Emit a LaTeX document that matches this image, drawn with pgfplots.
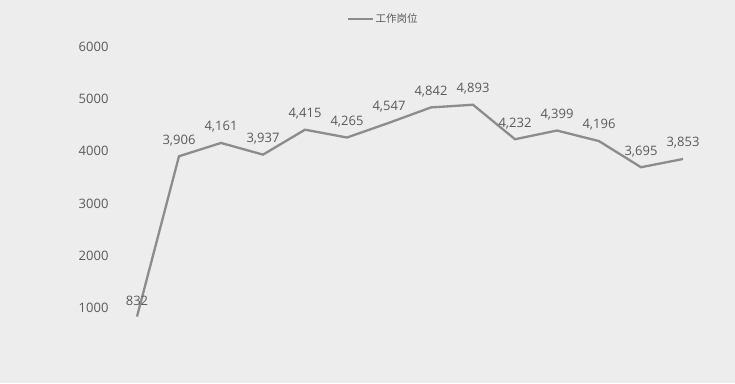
\documentclass[border=0pt]{standalone}
\usepackage{pgfplots}
\pgfplotsset{compat=1.18}
\usepackage{fontspec}
\setmainfont{Open Sans}
\newfontfamily\cjk{Noto Sans CJK SC}
\definecolor{bgc}{RGB}{237,237,237}
\definecolor{linec}{RGB}{140,140,140}
\definecolor{txtc}{RGB}{90,90,90}
\begin{document}
\begin{tikzpicture}[x=1pt,y=1pt]
\fill[bgc] (0,0) rectangle (735,383);
\begin{axis}[
  at={(116pt,23pt)}, anchor=south west,
  scale only axis, width=588pt, height=313pt,
  xmin=-0.5, xmax=13.5, ymin=0, ymax=6000,
  ytick={1000,2000,3000,4000,5000,6000},
  xtick=\empty,
  axis line style={draw=none},
  major tick length=0pt,
  yticklabel style={font=\fontsize{13}{15}\selectfont, text=txtc, xshift=-4pt},
  /pgf/number format/assume math mode=true,
  scaled y ticks=false,
  y tick label style={/pgf/number format/1000 sep={}},
  clip=false,
  legend style={at={(0.455,1)}, anchor=south, yshift=19pt, draw=none, fill=none,
    font=\cjk\fontsize{10.5}{12}\selectfont, text=txtc},
  legend image code/.code={\draw[#1, line width=2pt] (-0.1cm,0) -- (0.75cm,0);},
  nodes near coords,
  every node near coord/.style={font=\fontsize{13}{15}\selectfont, text=txtc, yshift=6pt},
  /pgf/number format/1000 sep={,},
]
\addplot[color=linec, line width=2.3pt, mark=none] coordinates {
(0,832) (1,3906) (2,4161) (3,3937) (4,4415) (5,4265) (6,4547)
(7,4842) (8,4893) (9,4232) (10,4399) (11,4196) (12,3695) (13,3853)
};
\addlegendentry{工作岗位}
\end{axis}
\end{tikzpicture}
\end{document}
